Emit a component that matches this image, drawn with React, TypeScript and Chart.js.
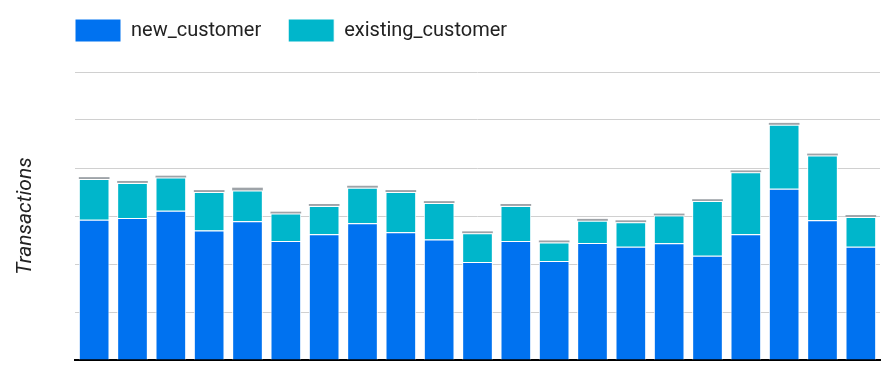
import React, { useEffect, useRef } from "react";
import { Chart, registerables } from "chart.js";

Chart.register(...registerables);

const categories = [
  "1", "2", "3", "4", "5", "6", "7", "8", "9", "10", "11",
  "12", "13", "14", "15", "16", "17", "18", "19", "20", "21",
];
const newCustomer = [292, 296, 311, 270, 289, 248, 262, 285, 266, 251, 204, 248, 206, 244, 236, 243, 217, 262, 357, 291, 236];
const existingCustomer = [85, 73, 69, 80, 64, 57, 59, 74, 84, 76, 60, 73, 39, 46, 51, 58, 114, 129, 133, 135, 62];
const otherCustomer = [4, 4, 4, 4, 6, 4, 4, 4, 4, 4, 4, 4, 4, 4, 4, 4, 4, 4, 4, 4, 4];
const yTicks = [0, 100, 200, 300, 400, 500, 600];

const LEGEND_PAD = 27;
const LEGEND_LIFT = 20;

const legendShift = {
  id: "legendShift",
  afterLayout(chart: any) {
    const lg = chart.legend;
    if (lg && chart.chartArea) {
      const w = lg.right - lg.left;
      lg.left = chart.chartArea.left - LEGEND_PAD;
      lg.right = lg.left + w;
      lg.top -= LEGEND_LIFT;
      lg.bottom -= LEGEND_LIFT;
    }
  },
};

export default function App() {
  const ref = useRef<HTMLCanvasElement | null>(null);
  useEffect(() => {
    if (!ref.current) return;
    const chart = new Chart(ref.current, {
      type: "bar",
      data: {
        labels: categories,
        datasets: [
          {
            label: "new_customer",
            data: newCustomer,
            backgroundColor: "#0072f0",
            borderColor: "#ffffff",
            borderWidth: 1,
            borderSkipped: "bottom",
          },
          {
            label: "existing_customer",
            data: existingCustomer,
            backgroundColor: "#00b6cb",
            borderColor: "#ffffff",
            borderWidth: 1,
            borderSkipped: "bottom",
          },
          {
            label: "other",
            data: otherCustomer,
            backgroundColor: "#9ea3a8",
            borderColor: "#ffffff",
            borderWidth: 0,
          },
        ],
      },
      options: {
        responsive: false,
        animation: false,
        layout: { padding: { top: 12, right: 1, bottom: 11, left: 0 } },
        datasets: { bar: { barPercentage: 0.8, categoryPercentage: 1 } },
        plugins: {
          tooltip: { enabled: false },
          legend: {
            display: true,
            position: "top",
            align: "start",
            fullSize: false,
            labels: {
              boxWidth: 46,
              boxHeight: 23,
              padding: LEGEND_PAD,
              color: "#222222",
              font: { family: "Roboto", size: 20 },
              filter: (item: any) => item.text !== "other",
            },
          },
        },
        scales: {
          x: {
            stacked: true,
            grid: { display: false, drawTicks: false },
            ticks: { display: false },
            border: { display: true, color: "#000000", width: 2 },
          },
          y: {
            stacked: true,
            min: 0,
            max: 600,
            afterBuildTicks: (scale: any) => {
              scale.ticks = yTicks.map((v) => ({ value: v }));
            },
            afterFit: (scale: any) => {
              scale.width = 75;
            },
            ticks: { display: false },
            grid: { color: "#d0d0d0", lineWidth: 1, drawTicks: false },
            border: { display: false },
            title: {
              display: true,
              text: "Transactions",
              color: "#222222",
              font: { family: "Roboto", size: 21, style: "italic" },
              padding: { top: 13, bottom: 0 },
            },
          },
        },
      },
      plugins: [legendShift],
    });
    return () => chart.destroy();
  }, []);
  return (
    <div style={{ width: 881, height: 371 }}>
      <style>{`body{margin:0}`}</style>
      <canvas ref={ref} width={881} height={371} style={{ display: "block" }} />
    </div>
  );
}
